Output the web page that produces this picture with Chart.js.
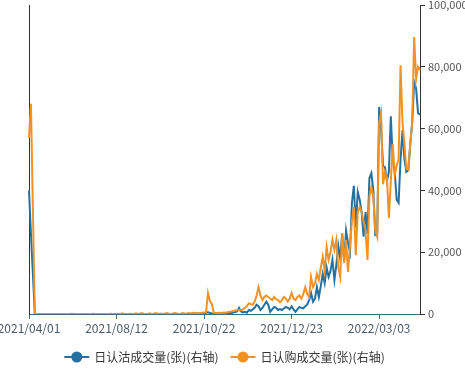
<!DOCTYPE html>
<html>
<head>
<meta charset="utf-8">
<script src="https://cdn.jsdelivr.net/npm/chart.js@4/dist/chart.umd.min.js"></script>
<style>
  html, body { margin: 0; padding: 0; background: #fff; }
  #wrap { width: 465px; height: 373px; }
</style>
</head>
<body>
<div id="wrap"><canvas id="optChart"></canvas></div>
<script>
// tick dates shown on the x axis, one every 45 trading days
const tickDates = ['2021/04/01', '2021/08/12', '2021/10/22', '2021/12/23', '2022/03/03'];
const tickStep = 45;

// 日认沽成交量 (put volume)
const putVolume = [
  40000, 26000, 13000, 0,
  0, 0, 0, 0, 0, 0, 0, 0, 0, 0, 0, 0,
  0, 0, 0, 0, 0, 0, 0, 0, 0, 0, 0, 0,
  0, 0, 0, 0, 0, 0, 0, 0, 0, 0, 0, 0,
  0, 0, 0, 0, 0, 0, 0, 0, 0, 0, 0, 0,
  0, 0, 0, 0, 0, 100, 0, 0, 0, 0, 0, 0,
  0, 0, 0, 0, 100, 0, 0, 0, 0, 0, 0, 100,
  0, 0, 0, 100, 0, 0, 0, 100, 0, 0, 200, 100,
  200, 100, 200, 300, 600, 300, 200, 100,
  200, 200, 300, 200, 300, 200, 300, 400, 300, 500,
  600, 800, 2000, 800, 500, 700, 400, 1300, 1000, 1500,
  2000, 3000, 2500, 1300, 2000, 3000, 4000, 3000, 700, 1500,
  2300, 2000, 1300, 1600, 1300, 1800, 2300, 2000, 1500, 2500,
  1500, 700, 1500, 2300, 2000, 1800, 2500, 3000, 4500, 6800,
  4000, 5000, 8700, 5500, 9000, 13000, 10000, 15000, 12000, 14000,
  17500, 11000, 16000, 22000, 18000, 26000, 17000, 27000, 23000, 20000,
  36000, 41500, 28000, 39500, 37000, 33000, 25000, 33000, 26000, 44000,
  45600, 40000, 25600, 26000, 67000, 60000, 48000, 47500, 43000, 46000,
  64000, 50000, 46000, 37000, 36000, 50000, 59500, 50000, 46000, 46500,
  55000, 62000, 75000, 73000, 65000, 64500
];

// 日认购成交量 (call volume)
const callVolume = [
  57000, 68000, 34000, 0,
  0, 0, 0, 0, 0, 0, 0, 0, 0, 0, 0, 0,
  0, 0, 0, 0, 0, 0, 100, 0, 0, 0, 0, 0,
  0, 0, 0, 0, 0, 100, 0, 0, 0, 0, 0, 0,
  0, 0, 100, 0, 0, 0, 0, 0, 200, 0, 0, 0,
  100, 0, 0, 200, 0, 0, 300, 100, 0, 0, 200, 0,
  0, 300, 200, 100, 0, 0, 200, 300, 100, 0, 200, 300,
  200, 0, 100, 300, 200, 100, 300, 200, 300, 400, 300, 200,
  300, 400, 500, 500, 6800, 4200, 3200, 400,
  300, 300, 400, 300, 500, 400, 600, 700, 800, 1000,
  1100, 1200, 1300, 1200, 1500, 2000, 2500, 3500, 3200, 3000,
  4000, 6000, 8700, 6000, 4500, 5500, 6000, 5500, 5000, 4500,
  5500, 4800, 4500, 3800, 4500, 5500, 5000, 4000, 5000, 6800,
  5000, 4500, 5500, 6000, 5000, 6500, 8700, 6500, 5500, 12000,
  8700, 10000, 13000, 11000, 15000, 18500, 14000, 21700, 17500, 20000,
  24000, 20700, 24000, 15000, 12000, 26000, 16500, 24000, 13600, 22000,
  30000, 34600, 19000, 33000, 34600, 33000, 30000, 27000, 17500, 38000,
  41000, 38000, 27000, 25000, 62000, 65000, 42000, 46000, 44000, 31000,
  43000, 55000, 45000, 48000, 50000, 80500, 62000, 55000, 47000, 46600,
  55000, 62000, 89600, 76000, 80000, 79000
];

const dayLabels = putVolume.map((_, i) => i % tickStep === 0 ? tickDates[i / tickStep] : '');

const putColor = '#25719f';
const callColor = '#f39224';

// legend drawn under the plot: line + dot marker, then text
const bottomLegend = {
  id: 'bottomLegend',
  afterDraw(chart) {
    const ctx = chart.ctx;
    const area = chart.chartArea;
    ctx.save();
    ctx.font = '12px "Noto Sans CJK SC", sans-serif';
    ctx.textBaseline = 'middle';
    const items = chart.data.datasets.map(ds => ({
      text: ds.label,
      color: ds.borderColor,
      w: 25 + 5 + ctx.measureText(ds.label).width
    }));
    const gap = 12;
    const total = items.reduce((s, it) => s + it.w, 0) + gap * (items.length - 1);
    let x = (area.left + area.right) / 2 - total / 2;
    const y = 357;
    items.forEach(it => {
      ctx.strokeStyle = it.color;
      ctx.lineWidth = 2;
      ctx.beginPath();
      ctx.moveTo(x, y);
      ctx.lineTo(x + 25, y);
      ctx.stroke();
      ctx.fillStyle = it.color;
      ctx.beginPath();
      ctx.arc(x + 12.5, y, 5.5, 0, Math.PI * 2);
      ctx.fill();
      ctx.fillStyle = '#333';
      ctx.fillText(it.text, x + 30, y);
      x += it.w + gap;
    });
    ctx.restore();
  }
};

const ctx = document.getElementById('optChart').getContext('2d');
new Chart(ctx, {
  type: 'line',
  data: {
    labels: dayLabels,
    datasets: [
      {
        label: '日认沽成交量(张)(右轴)',
        data: putVolume,
        borderColor: putColor,
        backgroundColor: putColor,
        borderWidth: 2,
        pointRadius: 0,
        tension: 0,
        order: 2,
        yAxisID: 'yRight'
      },
      {
        label: '日认购成交量(张)(右轴)',
        data: callVolume,
        borderColor: callColor,
        backgroundColor: callColor,
        borderWidth: 2,
        pointRadius: 0,
        tension: 0,
        order: 1,
        yAxisID: 'yRight'
      }
    ]
  },
  options: {
    responsive: true,
    maintainAspectRatio: false,
    animation: false,
    layout: { padding: { top: 5, bottom: 35, left: 0, right: 0 } },
    plugins: {
      legend: { display: false },
      tooltip: { enabled: false }
    },
    scales: {
      x: {
        offset: false,
        border: { color: '#3d6b80', width: 1 },
        grid: {
          drawOnChartArea: false,
          tickLength: 5,
          color: c => (c.index % tickStep === 0 ? '#3d6b80' : 'rgba(0,0,0,0)')
        },
        ticks: {
          autoSkip: false,
          maxRotation: 0,
          padding: 2,
          color: '#4a5b6a',
          font: { family: '"Noto Sans CJK SC", sans-serif', size: 12 }
        },
        afterFit(scale) {
          scale.height = 24;
          scale.paddingLeft = 0;
          scale.paddingRight = 0;
        }
      },
      yLeft: {
        position: 'left',
        min: 0,
        max: 100000,
        border: { color: '#333', width: 1 },
        grid: { display: false },
        ticks: { display: false },
        afterFit(scale) { scale.width = 29; }
      },
      yRight: {
        position: 'right',
        min: 0,
        max: 100000,
        border: { color: '#333', width: 1 },
        grid: { drawOnChartArea: false, tickLength: 5, color: '#333' },
        ticks: {
          stepSize: 20000,
          padding: 3,
          color: '#555',
          font: { family: '"Noto Sans CJK SC", sans-serif', size: 11 },
          callback: v => v.toLocaleString('en-US')
        },
        afterFit(scale) {
          scale.width = 45;
          scale.paddingTop = 0;
          scale.paddingBottom = 0;
        }
      }
    }
  },
  plugins: [bottomLegend]
});
</script>
</body>
</html>
